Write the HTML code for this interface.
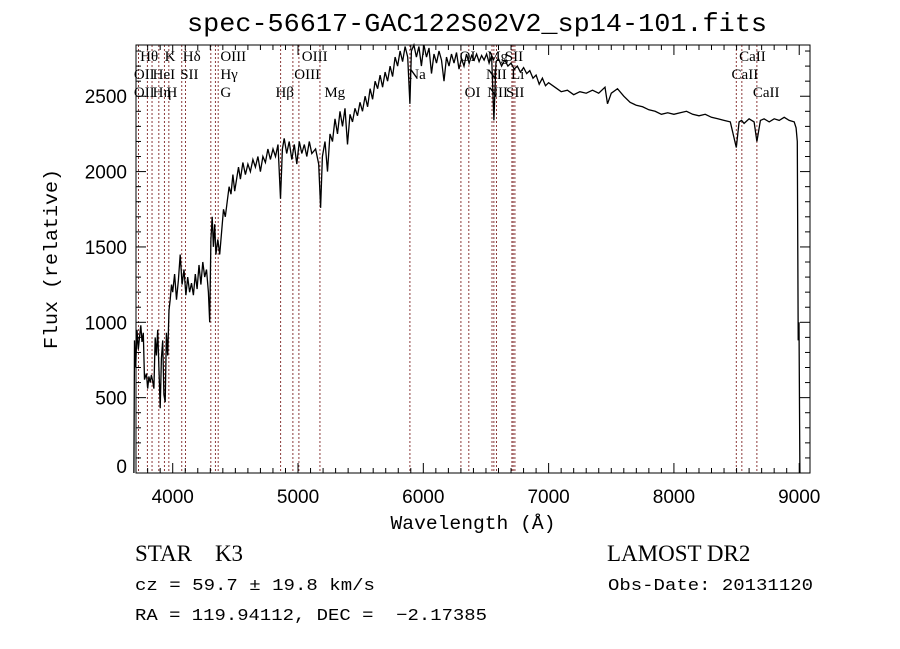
<!DOCTYPE html>
<html><head><meta charset="utf-8"><style>
html,body{margin:0;padding:0;background:#fff;}
svg{display:block;}
text{fill:#000;}
</style></head>
<body>
<svg id="chart" width="900" height="649" viewBox="0 0 900 649" xmlns="http://www.w3.org/2000/svg">
<rect width="900" height="649" fill="#fff"/>
<text x="477" y="31" text-anchor="middle" font-family="Liberation Mono, monospace" font-size="26" textLength="580" lengthAdjust="spacingAndGlyphs">spec-56617-GAC122S02V2_sp14-101.fits</text>
<g id="lines"></g>
<g id="labels" font-family="Liberation Serif, serif" font-size="15"></g>
<g id="spec"></g>
<g id="axes"></g>
<rect x="136" y="45" width="674" height="428" fill="none" stroke="#000" stroke-width="1"/>
<text x="473" y="529" text-anchor="middle" font-family="Liberation Mono, monospace" font-size="19" textLength="165" lengthAdjust="spacingAndGlyphs">Wavelength (Å)</text>
<text transform="translate(57,259) rotate(-90)" text-anchor="middle" font-family="Liberation Mono, monospace" font-size="19" textLength="180" lengthAdjust="spacingAndGlyphs">Flux (relative)</text>
<text x="135" y="561" font-family="Liberation Serif, serif" font-size="23" xml:space="preserve">STAR    K3</text>
<text x="135" y="590" font-family="Liberation Mono, monospace" font-size="17" textLength="240" lengthAdjust="spacingAndGlyphs">cz = 59.7 ± 19.8 km/s</text>
<text x="135" y="620" font-family="Liberation Mono, monospace" font-size="17" xml:space="preserve" textLength="352" lengthAdjust="spacingAndGlyphs">RA = 119.94112, DEC =  −2.17385</text>
<text x="607" y="561" font-family="Liberation Serif, serif" font-size="23">LAMOST DR2</text>
<text x="608" y="590" font-family="Liberation Mono, monospace" font-size="17" textLength="205" lengthAdjust="spacingAndGlyphs">Obs-Date: 20131120</text>
</svg>
<script>
var NS="http://www.w3.org/2000/svg";
var xTicks=[4000,5000,6000,7000,8000,9000];
var yTicks=[0,500,1000,1500,2000,2500];
var lineWaves=[3727,3798,3835,3889,3934,3969,4072,4102,4304,4341,4363,4861,4959,5007,5175,5893,6300,6363,6548,6563,6584,6707,6717,6731,8498,8542,8662];
var labelText=["Hθ","K","Hδ","OIII","OIII","OII","HeI","SII","Hγ","OIII","OII","Hη","H","G","Hβ","Mg","OI","Mg","SII","Na","NII","Li","OI","NII","SII","CaII","CaII","CaII"];
var labelWave=[3740,3935,4080,4380,5030,3690,3840,4060,4380,4970,3690,3840,3950,4380,4820,5210,6290,6510,6650,5880,6500,6700,6330,6510,6660,8520,8460,8630];
var labelRow=[0,0,0,0,0,1,1,1,1,1,2,2,2,2,2,2,0,0,0,1,1,1,2,2,2,0,1,2];
var waves=[3690,3695,3705,3715,3725,3735,3745,3755,3765,3775,3790,3800,3810,3820,3830,3840,3850,3860,3870,3880,3890,3900,3910,3920,3930,3940,3950,3960,3970,3980,3990,
4000,4015,4030,4045,4060,4075,4090,4105,4120,4135,4150,4165,4180,4195,4210,4225,4240,4255,4270,4285,4295,4305,4315,4325,4335,4345,4360,4375,4390,4405,4420,4435,4450,4465,4480,4495,4510,4525,4540,4560,4580,4600,4620,4640,4660,4680,4700,4720,4740,4760,4780,4800,4820,4840,4860,4875,4890,4910,4930,4950,4970,4990,5010,5030,5050,5070,5090,5110,5140,5165,5180,5195,5215,5235,5255,5275,5295,5315,5335,5355,5375,5395,5415,5435,5455,5475,5495,5515,5535,5555,5575,5595,5615,5635,5655,5675,5695,5715,5735,5755,5775,5795,5815,5835,5855,5875,5893,5905,5925,5945,5965,5985,6005,6025,6045,6065,6085,6105,6125,6145,6165,6185,6205,6225,6245,6265,6285,6305,6325,6345,6365,6385,6405,6425,6445,6465,6485,6505,6525,6545,6563,6580,6600,6625,6650,6675,6700,6725,6750,6775,6800,6825,6850,6875,6900,6925,6950,6975,7000,7050,7100,7150,7200,7250,7300,7350,7400,7450,7470,7500,7550,7600,7650,7700,7750,7800,7850,7900,7950,8000,8050,8100,8150,8200,8250,8300,8350,8400,8450,8498,8520,8540,8560,8600,8640,8662,8690,8720,8760,8800,8840,8880,8920,8960,8975,8985,8992,8998,9005];
var flux=[0,880,700,950,820,900,980,870,930,620,660,560,640,600,650,610,560,900,780,950,700,430,760,880,520,470,930,780,1080,1150,1250,
1200,1320,1150,1280,1450,1250,1350,1180,1300,1200,1260,1180,1320,1220,1380,1250,1400,1300,1350,1200,1000,1550,1700,1500,1650,1450,1550,1450,1600,1750,1700,1800,1900,1850,1980,1870,1950,2030,1950,2060,1980,2050,2000,2080,2030,2100,2000,2100,2060,2150,2080,2150,2100,2180,1820,2150,2220,2120,2200,2080,2180,2050,2200,2120,2180,2100,2200,2120,2150,2050,1760,2100,2200,2000,2250,2200,2350,2250,2400,2300,2420,2180,2380,2330,2420,2370,2460,2400,2500,2430,2550,2480,2600,2550,2640,2560,2660,2600,2700,2630,2760,2700,2800,2730,2830,2760,2450,2800,2840,2760,2830,2700,2840,2760,2820,2650,2780,2720,2800,2740,2600,2760,2700,2780,2720,2790,2680,2750,2700,2780,2720,2770,2740,2780,2730,2770,2740,2780,2720,2770,2340,2730,2750,2700,2740,2700,2720,2680,2700,2660,2690,2650,2670,2620,2640,2580,2620,2570,2590,2560,2530,2540,2510,2530,2520,2540,2520,2560,2450,2520,2550,2500,2460,2440,2430,2410,2400,2380,2390,2380,2390,2400,2380,2370,2380,2360,2350,2340,2330,2160,2330,2340,2320,2350,2330,2200,2340,2350,2330,2350,2340,2360,2340,2330,2290,2200,880,1000,0];
var X0=3707,X1=9086,PL=136,PR=810,Y0=0,Y1=2840,PB=473,PT=45;
function sx(w){return PL+(w-X0)/(X1-X0)*(PR-PL);}
function sy(v){return PB-(v-Y0)/(Y1-Y0)*(PB-PT);}
var gl=document.getElementById('lines');
lineWaves.forEach(function(w){
  var l=document.createElementNS(NS,'line');
  
  
  l.setAttribute('x1',sx(w));l.setAttribute('x2',sx(w));
  l.setAttribute('y1',PT);l.setAttribute('y2',PB);
  l.setAttribute('stroke','#8b3a3a');l.setAttribute('stroke-width','1');l.setAttribute('stroke-dasharray','2,2');
  gl.appendChild(l);
});
var gb=document.getElementById('labels');
var rowY=[61,79,97];
labelText.forEach(function(t,i){
  var e=document.createElementNS(NS,'text');
  
  
  e.setAttribute('x',sx(labelWave[i]));e.setAttribute('y',rowY[labelRow[i]]);
  e.textContent=t;gb.appendChild(e);
});
var d='';
waves.forEach(function(w,i){d+=(i?'L':'M')+sx(w).toFixed(1)+' '+sy(flux[i]).toFixed(1);});
var p=document.createElementNS(NS,'path');


p.setAttribute('d',d);p.setAttribute('fill','none');p.setAttribute('stroke','#000');p.setAttribute('stroke-width','1.3');
document.getElementById('spec').appendChild(p);
var ga=document.getElementById('axes');
function ln(x1,y1,x2,y2,name){var l=document.createElementNS(NS,'line');
  
  
  l.setAttribute('x1',x1);l.setAttribute('y1',y1);l.setAttribute('x2',x2);l.setAttribute('y2',y2);l.setAttribute('stroke','#000');ga.appendChild(l);}
for(var w=3800;w<=9000;w+=100){var major=(w%1000===0);var L=major?10:5;var x=sx(w);
  ln(x,PB,x,PB-L,'x-tick');ln(x,PT,x,PT+L,'x-tick-top');}
for(var v=0;v<=2800;v+=100){var major=(v%500===0);var L=major?10:5;var y=sy(v);
  ln(PL,y,PL+L,y,'y-tick');ln(PR,y,PR-L,y,'y-tick-right');}
xTicks.forEach(function(w){var t=document.createElementNS(NS,'text');
  
  
  t.setAttribute('x',sx(w));t.setAttribute('y',503);t.setAttribute('text-anchor','middle');
  t.setAttribute('font-family','Liberation Sans, sans-serif');t.setAttribute('font-size','19');
  t.textContent=w;ga.appendChild(t);});
yTicks.forEach(function(v){var t=document.createElementNS(NS,'text');
  
  
  var y=Math.min(sy(v)+7,473);
  t.setAttribute('x',127);t.setAttribute('y',y);t.setAttribute('text-anchor','end');
  t.setAttribute('font-family','Liberation Sans, sans-serif');t.setAttribute('font-size','19');
  t.textContent=v;ga.appendChild(t);});
</script>
</body></html>
